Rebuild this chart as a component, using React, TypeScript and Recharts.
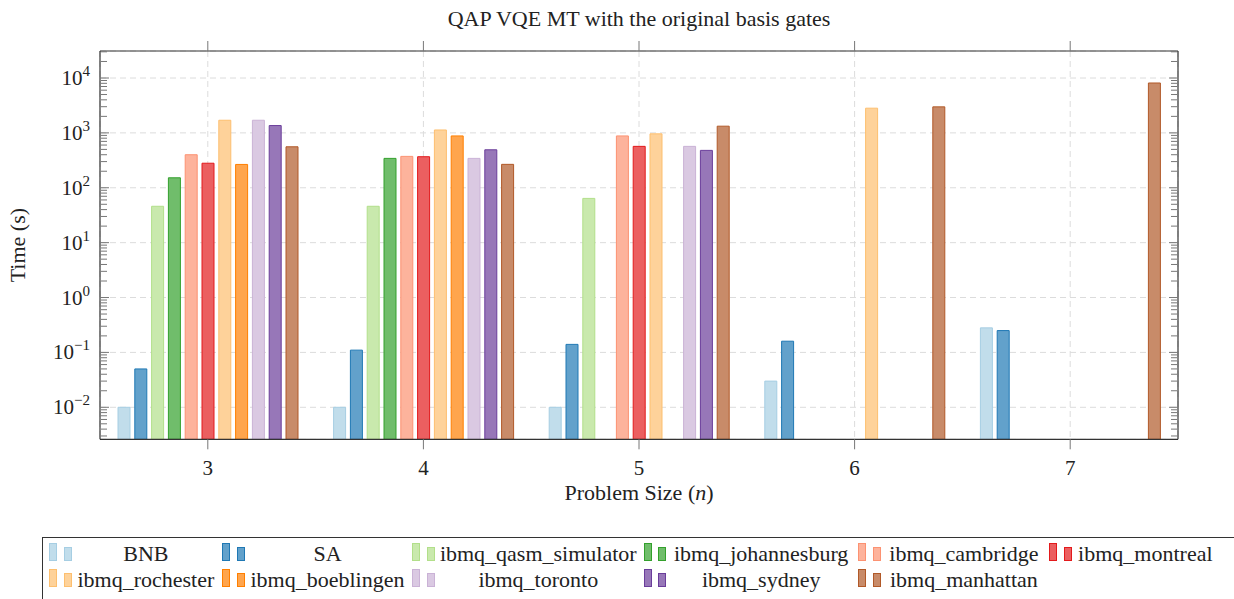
import { BarChart, Bar, XAxis, YAxis, CartesianGrid, Label } from 'recharts'

// problem sizes (n)
const CATEGORIES = ['3', '4', '5', '6', '7']

// time in seconds, null = no run
const BNB = [0.01, 0.01, 0.01, 0.03, 0.28]
const SA = [0.05, 0.11, 0.14, 0.16, 0.25]
const QASM_SIMULATOR = [46, 46, 64, null, null]
const JOHANNESBURG = [152, 343, null, null, null]
const CAMBRIDGE = [400, 373, 880, null, null]
const MONTREAL = [280, 368, 568, null, null]
const ROCHESTER = [1700, 1130, 960, 2820, null]
const BOEBLINGEN = [266, 880, null, null, null]
const TORONTO = [1700, 343, 568, null, null]
const SYDNEY = [1360, 492, 480, null, null]
const MANHATTAN = [558, 267, 1325, 2980, 8110]

const Y_MIN = 0.00261
const Y_MAX = 31050
const MAJOR_TICKS = [0.01, 0.1, 1, 10, 100, 1000, 10000]
const MINOR_STEPS = [2, 3, 4, 5, 6, 7, 8, 9]

const SERIES = [
  { key: 'bnb', label: 'BNB', values: BNB, color: '#a6cee3' },
  { key: 'sa', label: 'SA', values: SA, color: '#1f78b4' },
  { key: 'qasm', label: 'ibmq_qasm_simulator', values: QASM_SIMULATOR, color: '#b2df8a' },
  { key: 'joh', label: 'ibmq_johannesburg', values: JOHANNESBURG, color: '#33a02c' },
  { key: 'cam', label: 'ibmq_cambridge', values: CAMBRIDGE, color: '#fc9272' },
  { key: 'mon', label: 'ibmq_montreal', values: MONTREAL, color: '#e31a1c' },
  { key: 'roc', label: 'ibmq_rochester', values: ROCHESTER, color: '#fdbf6f' },
  { key: 'boe', label: 'ibmq_boeblingen', values: BOEBLINGEN, color: '#ff7f00' },
  { key: 'tor', label: 'ibmq_toronto', values: TORONTO, color: '#cab2d6' },
  { key: 'syd', label: 'ibmq_sydney', values: SYDNEY, color: '#6a3d9a' },
  { key: 'man', label: 'ibmq_manhattan', values: MANHATTAN, color: '#b15928' },
]

// legend is laid out in 6 columns, two rows
const LEGEND_TEXT_W = [139.7, 156.4, 198, 180.6, 157.7, 138]

const FONT = 'Liberation Serif, serif'
const AXIS = '#333'
const TICK = '#777'
const TEXT = '#222'

const minorTicks = [0.001, ...MAJOR_TICKS]
  .flatMap((d) => MINOR_STEPS.map((k) => +(k * d).toPrecision(3)))
  .filter((v) => v > Y_MIN && v < Y_MAX)

const rows = CATEGORIES.map((n, i) => {
  const row: Record<string, string | number | null> = { n }
  SERIES.forEach((s) => {
    row[s.key] = s.values[i]
  })
  return row
})

// opaque version of the colour at 70% over white
function tint(hex: string, a = 0.7) {
  const c = [1, 3, 5].map((i) => parseInt(hex.slice(i, i + 2), 16))
  const m = c.map((v) => Math.round(v * a + 255 * (1 - a)))
  return `rgb(${m[0]},${m[1]},${m[2]})`
}

function SvgText({ size, children, ...rest }: any) {
  return (
    <text {...rest} fontFamily={FONT} fontSize={size} fill={TEXT} style={{ fontFamily: FONT, fontSize: size }}>
      {children}
    </text>
  )
}

const NoLabel = () => <g />

function PowTick({ x, y, payload }: { x: number; y: number; payload: { value: number } }) {
  const e = Math.round(Math.log10(payload.value))
  return (
    <SvgText x={x} y={y + 7} textAnchor="end" size={21}>
      <tspan>10</tspan>
      <tspan dy={-9} style={{ fontSize: 15 }}>
        {e < 0 ? `\u2212${-e}` : e}
      </tspan>
    </SvgText>
  )
}

function CatTick({ x, y, payload }: { x: number; y: number; payload: { value: string } }) {
  return (
    <SvgText x={x} y={y + 26} textAnchor="middle" size={21}>
      {payload.value}
    </SvgText>
  )
}

function LegendIcon({ color }: { color: string }) {
  const box = (h: number) => ({
    width: 6,
    height: h,
    background: tint(color),
    border: `1px solid ${color}`,
    display: 'inline-block',
  })
  return (
    <span style={{ width: 27, display: 'inline-flex', alignItems: 'flex-end', gap: 6.6, flex: 'none' }}>
      <span style={box(16.4)} />
      <span style={box(12)} />
    </span>
  )
}

function Legend() {
  const cols = LEGEND_TEXT_W.length
  const lines = [SERIES.slice(0, cols), SERIES.slice(cols)]
  return (
    <div
      style={{
        position: 'absolute',
        left: 42,
        top: 536.5,
        width: 1300,
        height: 100,
        border: `1px solid ${AXIS}`,
        fontFamily: FONT,
        fontSize: 22,
        color: TEXT,
      }}
    >
      {lines.map((line, r) => (
        <div
          key={r}
          style={{
            position: 'absolute',
            left: 6,
            top: 5 + r * 26.5,
            display: 'flex',
            alignItems: 'baseline',
          }}
        >
          {line.map((s, c) => (
            <div key={s.key} style={{ display: 'flex', alignItems: 'baseline', marginRight: 6.6 }}>
              <LegendIcon color={s.color} />
              <span style={{ width: LEGEND_TEXT_W[c], textAlign: 'center', lineHeight: '22px', whiteSpace: 'nowrap' }}>
                {s.label}
              </span>
            </div>
          ))}
        </div>
      ))}
    </div>
  )
}

export default function App() {
  const logAxis = { scale: 'log' as const, domain: [Y_MIN, Y_MAX], allowDataOverflow: true, interval: 0, width: 1 }
  return (
    <div
      style={{
        position: 'absolute',
        left: 0,
        top: 0,
        width: 1234,
        height: 599,
        overflow: 'hidden',
        background: '#fff',
        fontFamily: FONT,
      }}
    >
      <BarChart
        width={1234}
        height={599}
        data={rows}
        margin={{ top: 50, right: 56, bottom: 158.7, left: 99 }}
        barSize={12}
        barGap={4.8}
        barCategoryGap={0}
        style={{ fontFamily: FONT }}
      >
        <CartesianGrid xAxisId="x" yAxisId="y" stroke="#dcdcdc" strokeDasharray="6 4" strokeWidth={1} />
        <XAxis
          xAxisId="x"
          dataKey="n"
          height={1}
          tickSize={10}
          tickMargin={0}
          interval={0}
          axisLine={{ stroke: AXIS, strokeWidth: 1.2 }}
          tickLine={{ stroke: TICK }}
          tick={CatTick}
        >
          <Label
            content={({ viewBox }: any) => (
              <SvgText x={viewBox.x + viewBox.width / 2} y={viewBox.y + 61} textAnchor="middle" size={22}>
                Problem Size (<tspan fontStyle="italic">n</tspan>)
              </SvgText>
            )}
          />
        </XAxis>
        <XAxis
          xAxisId="top"
          dataKey="n"
          orientation="top"
          height={1}
          tickSize={10}
          tick={NoLabel}
          interval={0}
          axisLine={{ stroke: AXIS, strokeWidth: 1.2 }}
          tickLine={{ stroke: TICK }}
        />
        <YAxis
          yAxisId="y"
          {...logAxis}
          ticks={MAJOR_TICKS}
          tickSize={0}
          tickMargin={10}
          tickLine={false}
          axisLine={{ stroke: AXIS, strokeWidth: 1.2 }}
          tick={PowTick}
        >
          <Label
            content={({ viewBox }: any) => {
              const cy = viewBox.y + viewBox.height / 2
              return (
                <SvgText x={25} y={cy} textAnchor="middle" transform={`rotate(-90 25 ${cy})`} size={22}>
                  Time (s)
                </SvgText>
              )
            }}
          />
        </YAxis>
        <YAxis yAxisId="lmaj" {...logAxis} ticks={MAJOR_TICKS} mirror tick={NoLabel} tickSize={9} axisLine={false} tickLine={{ stroke: TICK }} />
        <YAxis yAxisId="lmin" {...logAxis} ticks={minorTicks} mirror tick={NoLabel} tickSize={6} axisLine={false} tickLine={{ stroke: TICK }} />
        <YAxis yAxisId="rmaj" orientation="right" {...logAxis} ticks={MAJOR_TICKS} mirror tick={NoLabel} tickSize={9} axisLine={{ stroke: AXIS, strokeWidth: 1.2 }} tickLine={{ stroke: TICK }} />
        <YAxis yAxisId="rmin" orientation="right" {...logAxis} ticks={minorTicks} mirror tick={NoLabel} tickSize={6} axisLine={false} tickLine={{ stroke: TICK }} />
        {SERIES.map((s) => (
          <Bar
            key={s.key}
            xAxisId="x"
            yAxisId="y"
            dataKey={s.key}
            name={s.label}
            fill={tint(s.color)}
            stroke={s.color}
            strokeWidth={1}
            isAnimationActive={false}
          />
        ))}
      </BarChart>
      <div
        style={{
          position: 'absolute',
          left: 100,
          width: 1078,
          top: 7.5,
          textAlign: 'center',
          fontSize: 22,
          lineHeight: '22px',
          color: TEXT,
        }}
      >
        QAP VQE MT with the original basis gates
      </div>
      <Legend />
    </div>
  )
}
